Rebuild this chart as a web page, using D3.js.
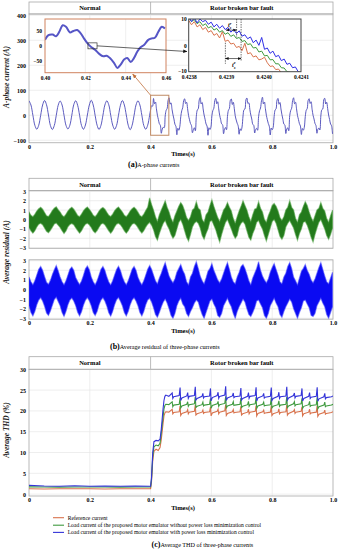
<!DOCTYPE html>
<html>
<head>
<meta charset="utf-8">
<script src="https://cdn.jsdelivr.net/npm/d3@7"></script>
<style>
  body { margin: 0; background: #fff; }
  svg { display: block; font-family: "Liberation Serif", "Times New Roman", serif; }
</style>
</head>
<body>
<script>
// ---------- data ----------
var phaseLabels = ['Normal', 'Rotor broken bar fault'];
var faultStart = 0.4;
var timeTicks = [0, 0.2, 0.4, 0.6, 0.8, 1.0];
var timeTickLabels = ['0', '0.2', '0.4', '0.6', '0.8', '1.0'];

// (a) A-phase current. normal part: one sample every 0.0064 s from t=0
var normalStep = 0.0064;
var currentNormal = [
  58, 41, 0, -40, -56, -40, 0, 41,
  59, 42, 1, -41, -57, -41, -1, 40,
  57, 41, 0, -40, -55, -40, 0, 42,
  58, 40, 0, -41, -56, -39, 1, 41,
  60, 41, -1, -40, -57, -40, 0, 41,
  58, 42, 0, -39, -56, -41, 0, 40,
  59, 41, 1, -40, -58, -40, -1, 41,
  58, 41, 0, -41, -56, -40, 0
];
// fault part: one sample every 0.0032 s from t=0.4
var faultStep = 0.0032;
var currentFault = [
  22, 38, 36,
  67, 46, 53, 26, 0, -17, -34, -40, -72, -55, -48, -50, -3, 20, 27, 60,
  70, 44, 50, 24, 2, -15, -36, -44, -78, -52, -60, -46, -6, 18, 30, 58,
  66, 47, 52, 27, -1, -18, -33, -41, -70, -58, -50, -62, -4, 21, 26, 61,
  71, 45, 51, 25, 1, -16, -35, -43, -80, -50, -57, -48, -2, 19, 28, 59,
  68, 46, 54, 26, 0, -17, -34, -38, -74, -56, -49, -58, -5, 20, 27, 60,
  65, 43, 52, 28, -2, -19, -32, -42, -76, -54, -61, -47, -3, 22, 25, 62,
  69, 47, 50, 24, 1, -15, -36, -40, -71, -57, -52, -60, -6, 18, 29, 58,
  72, 45, 53, 27, 0, -18, -33, -44, -79, -51, -58, -49, -4, 21, 26, 61,
  67, 44, 51, 25, 2, -16, -35, -39, -73, -55, -50, -62, -2, 19, 28, 59,
  70, 46, 52, 26, -1, -17, -34, -43, -77, -53, -60, -48, -5, 20, 27, 60,
  66, 47, 54, 24, 0, -15, -33, -41, -72, -56, -51, -59, -3, 22, 25, 62,
  68, 45, 52, 27, 1, -17, -35, -42, -75
];
var currentTicks = [-100, 0, 100, 200, 300, 400];

// zoom 0.40 - 0.46 s
var zoomTime = [0.4000, 0.4017, 0.4038, 0.4055, 0.4071, 0.4088, 0.4104, 0.4124, 0.4141, 0.4160,
  0.4177, 0.4193, 0.4210, 0.4226, 0.4248, 0.4269, 0.4289, 0.4306, 0.4322, 0.4342,
  0.4359, 0.4375, 0.4392, 0.4408, 0.4425, 0.4441, 0.4458, 0.4474, 0.4491, 0.4512,
  0.4529, 0.4545, 0.4562, 0.4579, 0.4595];
var zoomCurrent = [20, 36, 38, 32, 47, 69, 64, 45, 50, 53,
  42, 25, 9, -2, -13, -27, -35, -33, -41, -57,
  -74, -63, -46, -41, -54, -41, -19, -5, 3, 20,
  25, 27, 47, 64, 58];
var zoomTicks = [0.40, 0.42, 0.44, 0.46];
var zoomTickLabels = ['0.40', '0.42', '0.44', '0.46'];
var zoomCurrentTicks = [-50, 0, 50];

// fine zoom 0.4238 - 0.4241 s, one sample every 0.0000075 s
var fineStart = 0.4238;
var fineStep = 0.0000075;
var fineRef = [9.5, 7.8, 9, 7, 7.8, 6, 6.8, 5, 5.6, 3.8, 4.5, 2.8, 5.2, 1.5, 2, 0.5, 0.8, -0.8, -0.4, -2,
  0.8, -3.2, -2.8, -4.4, -4, -5.5, -5.2, -4.5, -6.6, -8, -7.8, -9.2, -9, -10.4, -11, -11, -11, -11, -11, -11, -11];
var fineNoPlm = [10.5, 9, 9.8, 8.2, 9, 7.5, 8.2, 6.6, 7.2, 5.8, 6.4, 5, 5.6, 4.2, 4.8, 3.4, 4, 2.6, 3, 1.5,
  1.8, 0.3, 0.6, -1, -0.8, -2.5, -2.2, -4, -3.8, -5.5, -5.4, -7, -7, -8.5, -8.6, -10, -10.2, -11, -11, -11, -11];
var finePlm = [11, 9, 10.5, 8.5, 10, 9, 9.5, 8, 8.8, 7, 8, 6.5, 7.5, 6, 6.8, 5, 6, 4.5, 5.5, 3.5,
  4, 2.5, 3.2, 1, 2, 0, 3, -1.5, -1, -3, -2.2, -4.3, -3.8, -5.8, -5.2, -7.2, -6.8, -8.5, -8.2, -10, -10.5];
var fineTicks = [0.4238, 0.4239, 0.4240, 0.4241];
var fineTickLabels = ['0.4238', '0.4239', '0.4240', '0.4241'];
var fineCurrentTicks = [-10, 0, 10];

// (b) average residual envelopes, one sample every 0.0064 s from t=0
var residStep = 0.0064;
var greenUpper = [
  0.8, 0.45, 0.3, 0.55, 0.9, 1.15, 1.3, 1.1,
  0.75, 0.4, 0.32, 0.6, 0.95, 1.2, 1.35, 1.05,
  0.8, 0.45, 0.28, 0.55, 0.9, 1.15, 1.3, 1.1,
  0.78, 0.42, 0.3, 0.58, 0.92, 1.18, 1.32, 1.08,
  0.8, 0.45, 0.3, 0.55, 0.9, 1.15, 1.28, 1.1,
  0.76, 0.44, 0.31, 0.57, 0.93, 1.17, 1.33, 1.06,
  0.8, 0.45, 0.3, 0.55, 0.9, 1.15, 1.3, 1.1,
  0.78, 0.43, 0.3, 0.56, 0.95, 1.3, 2.3,
  1.6,
  1.0, 0.3, -0.2, 0.5, 1.0, 1.5, 2.0, 1.3,
  0.8, 0.1, -0.3, 0.4, 0.9, 1.4, 1.8, 1.5,
  0.9, 0.2, -0.1, 0.3, 1.0, 1.2, 1.9, 1.2,
  1.0, 0.0, -0.3, 0.5, 0.8, 1.5, 2.1, 1.4,
  0.8, 0.2, -0.2, 0.4, 1.0, 1.3, 1.8, 1.3,
  0.9, 0.1, -0.4, 0.3, 0.9, 1.4, 2.0, 1.5,
  1.0, 0.3, -0.2, 0.5, 1.1, 1.2, 1.9, 1.2,
  0.8, 0.0, -0.3, 0.4, 0.9, 1.5, 1.7, 1.4,
  0.9, 0.2, -0.1, 0.3, 1.0, 1.3, 2.0, 1.3,
  1.0, 0.1, -0.3, 0.5, 0.8, 1.4, 1.9, 1.5,
  0.8, 0.2, -0.2, 0.4, 1.0, 1.2, 1.8, 1.2,
  0.9, 0.1, -0.3, 0.4, 1.0
];
var greenLower = [
  -0.85, -1.2, -1.45, -1.2, -0.8, -0.5, -0.4, -0.55,
  -0.9, -1.25, -1.4, -1.15, -0.82, -0.48, -0.38, -0.6,
  -0.85, -1.2, -1.48, -1.22, -0.78, -0.52, -0.42, -0.55,
  -0.88, -1.18, -1.45, -1.2, -0.8, -0.5, -0.4, -0.57,
  -0.85, -1.22, -1.42, -1.18, -0.82, -0.5, -0.4, -0.55,
  -0.87, -1.2, -1.46, -1.2, -0.8, -0.49, -0.39, -0.56,
  -0.85, -1.2, -1.45, -1.2, -0.8, -0.5, -0.4, -0.55,
  -0.86, -1.21, -1.44, -1.19, -0.81, -0.5, -0.3,
  -0.6,
  -1.1, -1.8, -2.2, -1.5, -0.9, -0.4, -0.1, -0.6,
  -1.0, -1.6, -2.0, -1.7, -1.0, -0.3, 0.0, -0.5,
  -1.2, -1.9, -2.3, -1.6, -0.8, -0.4, -0.2, -0.4,
  -0.9, -1.7, -2.1, -1.5, -1.0, -0.2, -0.1, -0.6,
  -1.1, -1.8, -2.4, -1.6, -0.9, -0.3, 0.0, -0.5,
  -1.0, -1.6, -2.0, -1.7, -0.8, -0.4, -0.2, -0.5,
  -1.2, -1.9, -2.2, -1.5, -1.0, -0.3, -0.1, -0.6,
  -1.0, -1.7, -2.3, -1.6, -0.9, -0.2, 0.0, -0.4,
  -1.1, -1.8, -2.1, -1.7, -0.8, -0.4, -0.1, -0.5,
  -0.9, -1.6, -2.2, -1.5, -1.0, -0.3, -0.2, -0.6,
  -1.2, -1.9, -2.4, -1.6, -0.9, -0.3, 0.0, -0.5,
  -1.0, -1.7, -2.1, -1.6, -0.9
];
var blueUpper = [
  1.3, 0.8, 0.5, 0.9, 1.5, 2.1, 2.4, 2.0,
  1.35, 0.75, 0.55, 0.95, 1.55, 2.05, 2.5, 1.95,
  1.3, 0.8, 0.5, 0.9, 1.5, 2.1, 2.35, 2.0,
  1.25, 0.85, 0.52, 0.88, 1.48, 2.15, 2.45, 2.05,
  1.3, 0.8, 0.5, 0.9, 1.5, 2.1, 2.4, 2.0,
  1.32, 0.78, 0.48, 0.92, 1.52, 2.08, 2.42, 1.98,
  1.3, 0.8, 0.5, 0.9, 1.5, 2.1, 2.4, 2.0,
  1.28, 0.82, 0.5, 0.9, 1.5, 2.1, 2.5,
  2.1,
  1.5, 0.9, 0.6, 1.2, 1.7, 2.3, 2.8, 2.1,
  1.4, 1.0, 0.7, 1.1, 1.8, 2.2, 2.6, 2.0,
  1.6, 0.8, 0.5, 1.3, 1.7, 2.4, 2.9, 2.2,
  1.4, 0.9, 0.6, 1.2, 1.9, 2.2, 2.7, 2.0,
  1.5, 1.0, 0.7, 1.1, 1.7, 2.3, 2.8, 2.1,
  1.3, 0.8, 0.6, 1.3, 1.8, 2.4, 2.6, 2.2,
  1.6, 0.9, 0.5, 1.2, 1.7, 2.2, 2.9, 2.0,
  1.4, 1.0, 0.7, 1.1, 1.8, 2.3, 2.7, 2.1,
  1.5, 0.8, 0.6, 1.3, 1.7, 2.4, 2.8, 2.2,
  1.3, 0.9, 0.5, 1.2, 1.9, 2.2, 2.6, 2.0,
  1.6, 1.0, 0.7, 1.1, 1.7, 2.3, 2.8, 2.1,
  1.4, 0.8, 0.6, 1.2, 1.8
];
var blueLower = [
  -1.7, -2.4, -2.75, -2.3, -1.6, -1.1, -0.85, -1.2,
  -1.75, -2.45, -2.7, -2.25, -1.65, -1.05, -0.8, -1.25,
  -1.7, -2.4, -2.8, -2.3, -1.6, -1.1, -0.88, -1.2,
  -1.68, -2.38, -2.75, -2.32, -1.62, -1.12, -0.85, -1.18,
  -1.7, -2.4, -2.72, -2.3, -1.6, -1.1, -0.85, -1.2,
  -1.72, -2.42, -2.78, -2.28, -1.58, -1.08, -0.83, -1.22,
  -1.7, -2.4, -2.75, -2.3, -1.6, -1.1, -0.85, -1.2,
  -1.7, -2.4, -2.76, -2.3, -1.6, -1.1, -0.9,
  -1.3,
  -1.9, -2.6, -2.9, -2.4, -1.8, -1.3, -1.0, -1.4,
  -2.0, -2.7, -3.0, -2.5, -1.7, -1.2, -0.9, -1.5,
  -1.8, -2.5, -2.8, -2.3, -1.9, -1.4, -1.1, -1.3,
  -2.0, -2.6, -3.0, -2.4, -1.8, -1.2, -1.0, -1.5,
  -1.9, -2.7, -2.9, -2.5, -1.7, -1.3, -0.9, -1.4,
  -1.8, -2.5, -3.0, -2.3, -1.8, -1.4, -1.0, -1.3,
  -2.0, -2.6, -2.8, -2.4, -1.9, -1.2, -1.1, -1.5,
  -1.9, -2.7, -3.0, -2.5, -1.7, -1.3, -0.9, -1.4,
  -1.8, -2.6, -2.9, -2.3, -1.8, -1.4, -1.0, -1.3,
  -2.0, -2.5, -3.0, -2.4, -1.9, -1.2, -1.1, -1.5,
  -1.9, -2.7, -2.8, -2.5, -1.7, -1.3, -0.9, -1.4,
  -1.8, -2.6, -3.0, -2.4, -1.8
];
var residTicks = [-3, -2, -1, 0, 1, 2, 3];

// (c) average THD (%)
var thdTime = [0, 0.05, 0.1, 0.15, 0.2, 0.25, 0.3, 0.35, 0.398,
  0.4, 0.403, 0.407, 0.411, 0.418, 0.425, 0.431, 0.435, 0.438, 0.441, 0.444, 0.447, 0.45,
  0.46, 0.471, 0.473, 0.476, 0.494,
  0.497, 0.499, 0.503, 0.519, 0.522, 0.524, 0.527, 0.544,
  0.547, 0.549, 0.553, 0.569, 0.572, 0.574, 0.577, 0.594,
  0.597, 0.599, 0.603, 0.619, 0.622, 0.624, 0.627, 0.644,
  0.647, 0.649, 0.653, 0.669, 0.672, 0.674, 0.677, 0.694,
  0.697, 0.699, 0.703, 0.719, 0.722, 0.724, 0.727, 0.744,
  0.747, 0.749, 0.753, 0.769, 0.772, 0.774, 0.777, 0.794,
  0.797, 0.799, 0.803, 0.819, 0.822, 0.824, 0.827, 0.845,
  0.848, 0.85, 0.854, 0.87, 0.873, 0.875, 0.878, 0.895,
  0.898, 0.9, 0.904, 0.92, 0.923, 0.925, 0.928, 0.945,
  0.948, 0.95, 0.954, 0.97, 0.973, 0.975, 0.978, 0.995,
  1.0];
var thdRef = [1.3, 1.25, 1.3, 1.28, 1.3, 1.25, 1.3, 1.28, 1.3,
  1.3, 3.0, 8.0, 10.3, 10.8, 10.5, 11.2, 13.0, 15.0, 17.0, 18.8, 19.5, 19.8,
  19.7, 20.4, 19.3, 19.6, 19.8,
  21.2, 18.9, 19.4, 19.8, 20.3, 19.3, 19.7, 19.9,
  21.4, 19.0, 19.3, 19.7, 20.2, 19.4, 19.6, 19.8,
  21.0, 18.8, 19.5, 19.9, 20.4, 19.3, 19.7, 20.0,
  21.5, 18.9, 19.4, 19.8, 20.3, 19.5, 19.6, 19.8,
  21.1, 19.0, 19.3, 19.7, 20.4, 19.3, 19.7, 19.9,
  21.3, 18.8, 19.4, 19.8, 20.2, 19.4, 19.5, 19.7,
  21.2, 18.9, 19.3, 19.7, 20.5, 19.3, 19.6, 19.8,
  21.4, 19.0, 19.4, 19.9, 20.3, 19.4, 19.7, 19.9,
  21.0, 18.8, 19.3, 19.7, 20.4, 19.3, 19.5, 19.7,
  21.3, 18.7, 19.2, 19.6, 20.2, 19.2, 19.4, 19.6,
  19.8];
var thdNoPlm = [1.75, 1.7, 1.68, 1.72, 1.7, 1.7, 1.68, 1.7, 1.7,
  1.7, 3.5, 9.0, 11.4, 11.8, 11.6, 12.2, 14.5, 16.5, 18.5, 20.5, 21.3, 21.6,
  21.5, 22.2, 21.0, 21.4, 21.6,
  23.2, 20.7, 21.2, 21.6, 22.2, 21.1, 21.5, 21.7,
  23.4, 20.8, 21.1, 21.5, 22.1, 21.2, 21.4, 21.6,
  23.0, 20.6, 21.3, 21.7, 22.3, 21.1, 21.5, 21.8,
  23.5, 20.7, 21.2, 21.6, 22.2, 21.3, 21.4, 21.6,
  23.1, 20.8, 21.1, 21.5, 22.3, 21.1, 21.5, 21.7,
  23.3, 20.6, 21.2, 21.6, 22.1, 21.2, 21.3, 21.5,
  23.2, 20.7, 21.1, 21.5, 22.4, 21.1, 21.4, 21.6,
  23.4, 20.8, 21.2, 21.7, 22.2, 21.2, 21.5, 21.7,
  23.0, 20.6, 21.1, 21.5, 22.3, 21.1, 21.3, 21.5,
  23.3, 20.5, 21.0, 21.4, 22.1, 21.0, 21.2, 21.4,
  21.6];
var thdPlm = [2.1, 1.95, 1.9, 2.0, 1.9, 1.95, 1.9, 1.95, 1.9,
  1.9, 4.0, 10.0, 12.6, 12.9, 12.8, 13.2, 15.5, 18.0, 20.5, 22.5, 23.5, 23.8,
  23.5, 24.3, 23.0, 23.4, 23.7,
  25.6, 22.5, 23.1, 23.6, 24.4, 23.0, 23.5, 23.7,
  25.8, 22.6, 23.0, 23.5, 24.2, 23.1, 23.4, 23.6,
  25.4, 22.4, 23.2, 23.7, 24.5, 23.0, 23.5, 23.8,
  25.9, 22.5, 23.1, 23.6, 24.3, 23.2, 23.4, 23.6,
  25.5, 22.6, 23.0, 23.5, 24.4, 23.0, 23.5, 23.7,
  25.7, 22.4, 23.1, 23.6, 24.2, 23.1, 23.3, 23.5,
  25.6, 22.5, 23.0, 23.5, 24.5, 23.0, 23.4, 23.6,
  25.8, 22.6, 23.1, 23.7, 24.3, 23.1, 23.5, 23.7,
  25.4, 22.4, 23.0, 23.5, 24.4, 23.0, 23.3, 23.5,
  25.7, 22.3, 22.9, 23.4, 24.2, 22.9, 23.2, 23.4,
  23.6];
var thdTicks = [0, 5, 10, 15, 20, 25, 30];
var legendLabels = ['Reference current',
  'Load current of the proposed motor emulator without power loss minimization control',
  'Load current of the proposed motor emulator with power loss minimization control'];

// ---------- drawing ----------
var serif = '"Liberation Serif", "Times New Roman", serif';
var colRef = '#d8724c', colNoPlm = '#3f9a3f', colPlm = '#3434d8';
var frameCol = '#a8a8a8', gridCol = '#e6e6e6';

var svg = d3.select('body').append('svg').attr('width', 341).attr('height', 550);
var defs = svg.append('defs');

function clip(id, x0, y0, x1, y1) {
  defs.append('clipPath').attr('id', id).append('rect')
    .attr('x', x0).attr('y', y0).attr('width', x1 - x0).attr('height', y1 - y0);
  return 'url(#' + id + ')';
}
function marker(id, color) {
  defs.append('marker').attr('id', id).attr('viewBox', '0 0 10 10')
    .attr('refX', 9).attr('refY', 5).attr('markerWidth', 6).attr('markerHeight', 6)
    .attr('orient', 'auto-start-reverse')
    .append('path').attr('d', 'M0,1L10,5L0,9z').attr('fill', color);
}
marker('arrBlack', '#111');
marker('arrBrown', '#c0703c');

var x = d3.scaleLinear().domain([0, 1]).range([29, 333]);

function header(top, bottom) {
  var g = svg.append('g');
  g.append('rect').attr('x', x(0)).attr('y', top).attr('width', x(1) - x(0)).attr('height', bottom - top)
    .attr('fill', '#fff').attr('stroke', frameCol).attr('stroke-width', 0.8);
  g.append('line').attr('x1', x(faultStart)).attr('x2', x(faultStart)).attr('y1', top).attr('y2', bottom)
    .attr('stroke', frameCol).attr('stroke-width', 0.8);
  g.selectAll('text').data(phaseLabels).join('text')
    .attr('x', function(d, i) { return i == 0 ? x(faultStart / 2) : x((faultStart + 1) / 2); })
    .attr('y', (top + bottom) / 2).attr('dy', '0.35em')
    .attr('text-anchor', 'middle').attr('font-size', 6.5).attr('font-weight', 'bold')
    .text(function(d) { return d; });
}

function plotBox(y, ticks, y0, y1) {
  var g = svg.append('g');
  g.selectAll('line.v').data(timeTicks.slice(1, -1)).join('line').attr('class', 'v')
    .attr('x1', function(d) { return x(d); }).attr('x2', function(d) { return x(d); })
    .attr('y1', y0).attr('y2', y1).attr('stroke', gridCol).attr('stroke-width', 0.7);
  g.selectAll('line.h').data(ticks).join('line').attr('class', 'h')
    .attr('x1', x(0)).attr('x2', x(1))
    .attr('y1', function(d) { return y(d); }).attr('y2', function(d) { return y(d); })
    .attr('stroke', gridCol).attr('stroke-width', 0.7);
  g.append('rect').attr('x', x(0)).attr('y', y0).attr('width', x(1) - x(0)).attr('height', y1 - y0)
    .attr('fill', 'none').attr('stroke', frameCol).attr('stroke-width', 0.8);
  // y tick labels
  svg.append('g').attr('transform', 'translate(' + x(0) + ',0)')
    .call(d3.axisLeft(y).tickValues(ticks).tickSize(0).tickPadding(3).tickFormat(d3.format('d')))
    .call(function(a) { a.select('.domain').remove(); })
    .selectAll('text').attr('font-family', serif).attr('font-size', 6).attr('font-weight', 'bold');
}

function timeAxis(yPos, pad, titleY) {
  svg.append('g').attr('transform', 'translate(0,' + yPos + ')')
    .call(d3.axisBottom(x).tickValues(timeTicks).tickSize(0).tickPadding(pad)
      .tickFormat(function(d, i) { return timeTickLabels[i]; }))
    .call(function(a) { a.select('.domain').remove(); })
    .selectAll('text').attr('font-family', serif).attr('font-size', 6).attr('font-weight', 'bold');
  svg.append('text').attr('x', 183).attr('y', titleY).attr('text-anchor', 'middle')
    .attr('font-size', 6.5).attr('font-weight', 'bold').text('Times(s)');
}

function yTitle(txt, cy) {
  svg.append('text').attr('transform', 'translate(8.5,' + cy + ') rotate(-90)')
    .attr('text-anchor', 'middle').attr('font-size', 7.5).attr('font-weight', 'bold')
    .attr('font-style', 'italic').attr('fill', '#222').text(txt);
}

function caption(letter, txt, x0, yc) {
  var t = svg.append('text').attr('x', x0).attr('y', yc).attr('dy', '0.35em');
  t.append('tspan').attr('font-size', 8).attr('font-weight', 'bold').text('(' + letter + ')');
  t.append('tspan').attr('font-size', 6.2).text(txt);
}

// ===== (a) A-phase currents =====
header(2, 14);
var yA = d3.scaleLinear().domain([-110, 405]).range([142.75, 14]);
plotBox(yA, currentTicks, 14, 142.75);

var mainPts = currentNormal.map(function(v, i) { return { t: i * normalStep, v: v }; })
  .concat(currentFault.map(function(v, i) { return { t: faultStart + i * faultStep, v: v }; }));
svg.append('path').datum(mainPts)
  .attr('clip-path', clip('clipA', x(0), 14, x(1), 142.75))
  .attr('fill', 'none').attr('stroke', '#4a48b8').attr('stroke-width', 0.9)
  .attr('d', d3.line().x(function(d) { return x(d.t); }).y(function(d) { return yA(d.v); })
    .curve(d3.curveCatmullRom));

// highlight box on the main trace
svg.append('rect').attr('x', x(0.4)).attr('y', yA(80))
  .attr('width', x(0.46) - x(0.4)).attr('height', yA(-80) - yA(80))
  .attr('fill', 'none').attr('stroke', '#c08a64').attr('stroke-width', 1);

timeAxis(142.75, 1.5, 155.5);
yTitle('A-phase current (A)', 77);
caption('a', 'A-phase currents', 128, 161);

// inset 1 : 0.40 - 0.46 s
var xZ = d3.scaleLinear().domain([0.40, 0.46]).range([45, 166]);
var yZ = d3.scaleLinear().domain([-90, 90]).range([72.7, 19]);
svg.append('rect').attr('x', 45).attr('y', 19).attr('width', 121).attr('height', 53.7).attr('fill', '#fff');
svg.append('g').selectAll('line').data(zoomTicks.slice(1, -1)).join('line')
  .attr('x1', function(d) { return xZ(d); }).attr('x2', function(d) { return xZ(d); })
  .attr('y1', 19).attr('y2', 72.7).attr('stroke', gridCol).attr('stroke-width', 0.6);
svg.append('path').datum(zoomTime.map(function(t, i) { return { t: t, v: zoomCurrent[i] }; }))
  .attr('clip-path', clip('clipZ', 45, 19, 166, 72.7))
  .attr('fill', 'none').attr('stroke', '#5656c6').attr('stroke-width', 2)
  .attr('d', d3.line().x(function(d) { return xZ(d.t); }).y(function(d) { return yZ(d.v); })
    .curve(d3.curveCatmullRom));
svg.append('rect').attr('x', 45).attr('y', 19).attr('width', 121).attr('height', 53.7)
  .attr('fill', 'none').attr('stroke', '#d0825e').attr('stroke-width', 1);
svg.append('g').attr('transform', 'translate(45,0)')
  .call(d3.axisLeft(yZ).tickValues(zoomCurrentTicks).tickSize(0).tickPadding(3))
  .call(function(a) { a.select('.domain').remove(); })
  .selectAll('text').attr('font-family', serif).attr('font-size', 5.5).attr('font-weight', 'bold');
svg.append('g').attr('transform', 'translate(0,72.7)')
  .call(d3.axisBottom(xZ).tickValues(zoomTicks).tickSize(0).tickPadding(3.5)
    .tickFormat(function(d, i) { return zoomTickLabels[i]; }))
  .call(function(a) { a.select('.domain').remove(); })
  .selectAll('text').attr('font-family', serif).attr('font-size', 5.5).attr('font-weight', 'bold');
// small window
svg.append('rect').attr('x', xZ(0.4213)).attr('y', yZ(10))
  .attr('width', xZ(0.4258) - xZ(0.4213)).attr('height', yZ(-10) - yZ(10))
  .attr('fill', 'none').attr('stroke', '#333').attr('stroke-width', 0.7);

// inset 2 : 0.4238 - 0.4241 s
var xF = d3.scaleLinear().domain([0.4238, 0.4241]).range([188.7, 301]);
var yF = d3.scaleLinear().domain([-10, 10]).range([71.7, 19]);
svg.append('rect').attr('x', 188.7).attr('y', 19).attr('width', 112.3).attr('height', 52.7).attr('fill', '#fff');
var clipF = clip('clipF', 188.7, 19, 301, 71.7);
var fineLine = d3.line().x(function(d, i) { return xF(fineStart + i * fineStep); }).y(function(d) { return yF(d); });
[[fineRef, colRef], [fineNoPlm, colNoPlm], [finePlm, '#2e2ee6']].forEach(function(s) {
  svg.append('path').datum(s[0]).attr('clip-path', clipF)
    .attr('fill', 'none').attr('stroke', s[1]).attr('stroke-width', 1).attr('d', fineLine);
});
svg.append('rect').attr('x', 188.7).attr('y', 19).attr('width', 112.3).attr('height', 52.7)
  .attr('fill', 'none').attr('stroke', '#444').attr('stroke-width', 1);
svg.append('g').attr('transform', 'translate(188.7,0)')
  .call(d3.axisLeft(yF).tickValues(fineCurrentTicks).tickSize(0).tickPadding(2))
  .call(function(a) { a.select('.domain').remove(); })
  .selectAll('text').attr('font-family', serif).attr('font-size', 5.5).attr('font-weight', 'bold')
  .attr('dy', function(d) { return d == -10 ? '0.1em' : '0.32em'; });
svg.append('g').attr('transform', 'translate(0,71.7)')
  .call(d3.axisBottom(xF).tickValues(fineTicks).tickSize(0).tickPadding(3.5)
    .tickFormat(function(d, i) { return fineTickLabels[i]; }))
  .call(function(a) { a.select('.domain').remove(); })
  .selectAll('text').attr('font-family', serif).attr('font-size', 5.5).attr('font-weight', 'bold');

// sampling-time annotation
var ann = svg.append('g').attr('stroke', '#111').attr('stroke-width', 0.6);
[[0.423898, 1, -7], [0.423928, 10, 3], [0.42394, 10, -6]].forEach(function(d) {
  ann.append('line').attr('x1', xF(d[0])).attr('x2', xF(d[0])).attr('y1', yF(d[1])).attr('y2', yF(d[2]))
    .attr('stroke-dasharray', '1.5,1');
});
ann.append('line').attr('x1', xF(0.4239)).attr('x2', xF(0.423928)).attr('y1', yF(5.8)).attr('y2', yF(5.8))
  .attr('marker-end', 'url(#arrBlack)').attr('marker-start', 'url(#arrBlack)');
ann.append('line').attr('x1', xF(0.423898)).attr('x2', xF(0.42394)).attr('y1', yF(-5)).attr('y2', yF(-5))
  .attr('marker-end', 'url(#arrBlack)').attr('marker-start', 'url(#arrBlack)');
function tLabel(tx, v, sup) {
  var t = svg.append('text').attr('x', xF(tx)).attr('y', yF(v)).attr('font-size', 6)
    .attr('font-weight', 'bold').attr('font-style', 'italic');
  t.append('tspan').text('t');
  t.append('tspan').attr('font-size', 4).attr('dy', -2.5).text(sup);
  t.append('tspan').attr('font-size', 4).attr('dx', -1.5).attr('dy', 4.5).text('s');
}
tLabel(0.423905, 6.8, 'r');
tLabel(0.423916, -8.2, 'e');

// arrows between the views
svg.append('line').attr('x1', xZ(0.4258)).attr('y1', yZ(0)).attr('x2', 187).attr('y2', 51.5)
  .attr('stroke', '#222').attr('stroke-width', 0.7).attr('marker-end', 'url(#arrBlack)');
svg.append('line').attr('x1', x(0.4)).attr('y1', yA(80)).attr('x2', xZ(0.4435)).attr('y2', 74)
  .attr('stroke', '#c0703c').attr('stroke-width', 0.8).attr('marker-end', 'url(#arrBrown)');

// ===== (b) Average residual =====
header(178.3, 190.7);
var yB1 = d3.scaleLinear().domain([-3, 3]).range([247.7, 191.3]);
var yB2 = d3.scaleLinear().domain([-3, 3]).range([318.3, 260.7]);
plotBox(yB1, residTicks, 190.7, 248.3);
plotBox(yB2, residTicks, 259.8, 319.2);

function band(upper, lower, y, fill, edge, clipId, y0, y1) {
  var pts = upper.map(function(u, i) { return { t: i * residStep, u: u, l: lower[i] }; });
  svg.append('path').datum(pts).attr('clip-path', clip(clipId, x(0), y0, x(1), y1))
    .attr('fill', fill).attr('stroke', edge).attr('stroke-width', 1.2).attr('stroke-opacity', 0.55)
    .attr('d', d3.area().x(function(d) { return x(d.t); })
      .y0(function(d) { return y(d.l); }).y1(function(d) { return y(d.u); }));
}
band(greenUpper, greenLower, yB1, '#237a1c', '#4aa040', 'clipB1', 190.7, 248.3);
band(blueUpper, blueLower, yB2, '#0a0af2', '#4a4aff', 'clipB2', 259.8, 319.2);

timeAxis(319.2, 2, 333);
yTitle('Average residual (A)', 252);
caption('b', 'Average residual of three-phase currents', 110, 343);

// ===== (c) Average THD =====
header(356.7, 369.3);
var yC = d3.scaleLinear().domain([-0.45, 30]).range([496, 369.3]);
plotBox(yC, thdTicks, 369.3, 496);
var thdLine = d3.line().x(function(d, i) { return x(thdTime[i]); }).y(function(d) { return yC(d); });
var clipC = clip('clipC', x(0), 369.3, x(1), 496);
[[thdRef, colRef], [thdNoPlm, colNoPlm], [thdPlm, colPlm]].forEach(function(s) {
  svg.append('path').datum(s[0]).attr('clip-path', clipC)
    .attr('fill', 'none').attr('stroke', s[1]).attr('stroke-width', 1.1).attr('d', thdLine);
});
timeAxis(496, 1.5, 510);
yTitle('Average THD (%)', 430);

var legendY = [517.7, 525.2, 532.4];
var leg = svg.append('g');
[colRef, colNoPlm, colPlm].forEach(function(c, i) {
  leg.append('line').attr('x1', 53).attr('x2', 64).attr('y1', legendY[i]).attr('y2', legendY[i])
    .attr('stroke', c).attr('stroke-width', 1.1);
  leg.append('text').attr('x', 67.7).attr('y', legendY[i]).attr('dy', '0.35em')
    .attr('font-size', 5.6).text(legendLabels[i]);
});
caption('c', 'Average THD of three-phase currents', 151.5, 541);
</script>
</body>
</html>
